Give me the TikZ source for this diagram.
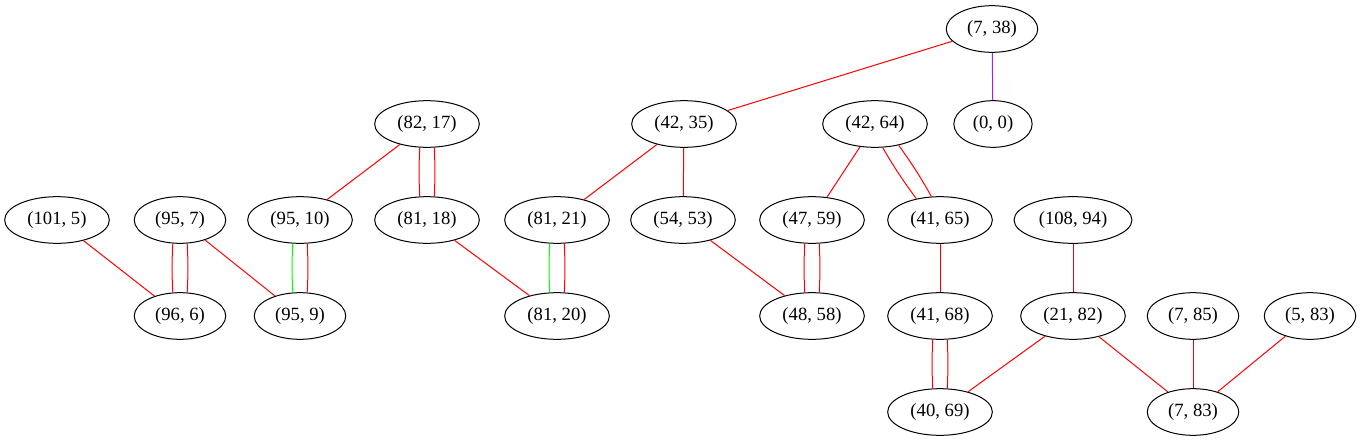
\documentclass[tikz,border=0pt]{standalone}
\usepackage{fontspec}
\setmainfont{Liberation Serif}
\usetikzlibrary{shapes.geometric}

\definecolor{gvpurple}{RGB}{160,32,240}
\definecolor{gvgreen}{RGB}{0,255,0}

\begin{document}
\begin{tikzpicture}[
    x=0.75pt, y=-0.75pt,
    pair/.style={
        draw,
        ellipse,
        line width=0.75pt,
        font=\fontsize{14pt}{16pt}\selectfont,
        inner xsep=5.6pt,
        inner ysep=0pt,
        minimum height=35pt
    },
    link/.style={
        red,
        line width=0.75pt
    }
]
\useasboundingbox (0,0) rectangle (1361,443);

% top rows
\node[pair] (p7x38) at (992,29) {(7, 38)};
\node[pair] (p82x17) at (427,124) {(82, 17)};
\node[pair] (p42x35) at (684,124) {(42, 35)};
\node[pair] (p42x64) at (875,124) {(42, 64)};
\node[pair] (p0x0) at (993,124) {(0, 0)};

% middle row
\node[pair] (p101x5) at (57,220) {(101, 5)};
\node[pair] (p95x7) at (180,220) {(95, 7)};
\node[pair] (p95x10) at (300,220) {(95, 10)};
\node[pair] (p81x18) at (427,220) {(81, 18)};
\node[pair] (p81x21) at (557,220) {(81, 21)};
\node[pair] (p54x53) at (683,220) {(54, 53)};
\node[pair] (p47x59) at (812,220) {(47, 59)};
\node[pair] (p41x65) at (940,220) {(41, 65)};
\node[pair] (p108x94) at (1073,220) {(108, 94)};

% lower rows
\node[pair] (p96x6) at (180,316) {(96, 6)};
\node[pair] (p95x9) at (300,316) {(95, 9)};
\node[pair] (p81x20) at (557,316) {(81, 20)};
\node[pair] (p48x58) at (812,316) {(48, 58)};
\node[pair] (p41x68) at (940,316) {(41, 68)};
\node[pair] (p21x82) at (1073,316) {(21, 82)};
\node[pair] (p7x85) at (1193,316) {(7, 85)};
\node[pair] (p5x83) at (1310,316) {(5, 83)};
\node[pair] (p40x69) at (940,412) {(40, 69)};
\node[pair] (p7x83) at (1193,412) {(7, 83)};

% single edges
\draw[link] (p7x38) -- (p42x35);
\draw[link, gvpurple] (p7x38) -- (p0x0);
\draw[link] (p42x35) -- (p81x21);
\draw[link] (p42x35) -- (p54x53);
\draw[link] (p82x17) -- (p95x10);
\draw[link] (p42x64) -- (p47x59);
\draw[link] (p101x5) -- (p96x6);
\draw[link] (p95x7) -- (p95x9);
\draw[link] (p81x18) -- (p81x20);
\draw[link] (p54x53) -- (p48x58);
\draw[link] (p41x65) -- (p41x68);
\draw[link] (p108x94) -- (p21x82);
\draw[link] (p21x82) -- (p40x69);
\draw[link] (p21x82) -- (p7x83);
\draw[link] (p7x85) -- (p7x83);
\draw[link] (p5x83) -- (p7x83);

% double edges
\draw[link] (p82x17.-107) to[bend right=3] (p81x18.107);
\draw[link] (p82x17.-73) to[bend left=3] (p81x18.73);
\draw[link] (p42x64.-72) to[bend right=3] (p41x65.138);
\draw[link] (p42x64.-42) to[bend left=3] (p41x65.110);
\draw[link] (p95x7.-107) to[bend right=3] (p96x6.107);
\draw[link] (p95x7.-73) to[bend left=3] (p96x6.73);
\draw[link, gvgreen] (p95x10.-107) to[bend right=3] (p95x9.107);
\draw[link] (p95x10.-73) to[bend left=3] (p95x9.73);
\draw[link, gvgreen] (p81x21.-107) to[bend right=3] (p81x20.107);
\draw[link] (p81x21.-73) to[bend left=3] (p81x20.73);
\draw[link] (p47x59.-107) to[bend right=3] (p48x58.107);
\draw[link] (p47x59.-73) to[bend left=3] (p48x58.73);
\draw[link] (p41x68.-107) to[bend right=3] (p40x69.107);
\draw[link] (p41x68.-73) to[bend left=3] (p40x69.73);

\end{tikzpicture}
\end{document}
